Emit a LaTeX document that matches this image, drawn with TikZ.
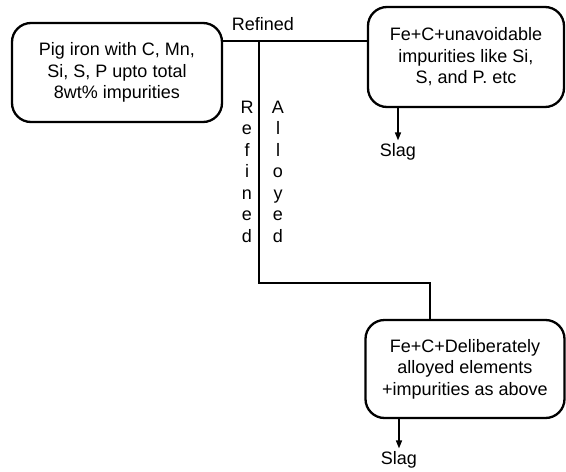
\documentclass[tikz,border=0pt]{standalone}
\usepackage{fontspec}
\setmainfont{Liberation Sans}
\usetikzlibrary{arrows.meta}
\tikzset{
  procbox/.style={draw, line width=2.3pt, rounded corners=19pt, align=center, inner sep=0pt,
    font=\fontsize{18}{21.5}\selectfont},
  lbl/.style={inner sep=0pt, font=\fontsize{18}{21.5}\selectfont},
  vlbl/.style={inner sep=0pt, align=center, font=\fontsize{18}{21.5}\selectfont},
  conn/.style={line width=2.1pt},
  slagarrow/.style={line width=1.5pt, -{Triangle[length=8pt,width=6pt]}},
}
\begin{document}
\begin{tikzpicture}[x=1pt,y=-1pt]
\useasboundingbox (0,0) rectangle (566,472);
\node[procbox, minimum width=210pt, minimum height=99pt] (box1) at (117,72.5)
  {Pig iron with C, Mn,\\Si, S, P upto total\\8wt\% impurities};
\node[procbox, minimum width=196pt, minimum height=100pt] (box2) at (466,57)
  {Fe+C+unavoidable\\impurities like Si,\\S, and P. etc};
\node[procbox, minimum width=199pt, minimum height=98pt] (box3) at (465,369)
  {Fe+C+Deliberately\\alloyed elements\\+impurities as above};
\node[lbl] (reflbl) at (263,24) {Refined};
\node[vlbl] (vref) at (247,171.5) {R\\e\\f\\i\\n\\e\\d};
\node[vlbl] (valloy) at (278,171.5) {A\\l\\l\\o\\y\\e\\d};
\node[lbl, inner sep=3pt] (slag1) at (398,152) {Slag};
\node[lbl, inner sep=3pt] (slag2) at (399,460) {Slag};
\coordinate (j) at (259,41);
\coordinate (k) at (259,283);
\draw[conn] ([yshift=31.5pt]box1.east) -- ([yshift=16pt]box2.west);
\draw[conn] (j) -- (k) -| ([xshift=-35pt]box3.north);
\draw[slagarrow] (box2.south -| slag1.north) -- (slag1.north);
\draw[slagarrow] (box3.south -| slag2.north) -- (slag2.north);
\end{tikzpicture}
\end{document}
